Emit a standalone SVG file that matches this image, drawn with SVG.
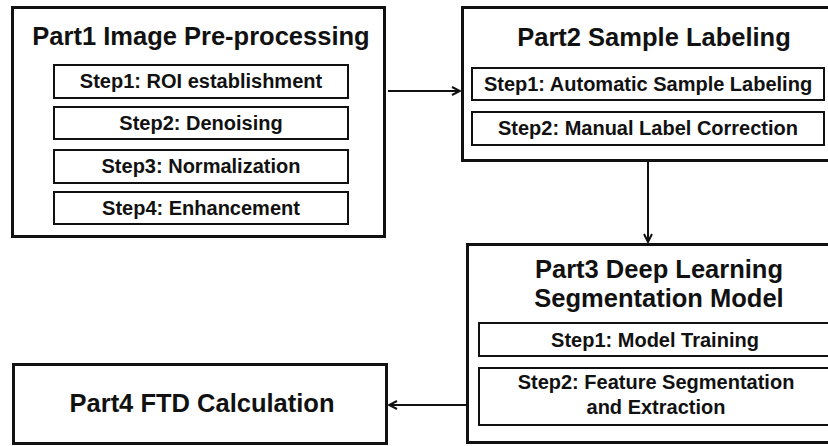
<svg xmlns="http://www.w3.org/2000/svg" width="828" height="446" viewBox="0 0 828 446">
  <style>
    .part { fill: #fff; stroke: #111; stroke-width: 3; }
    .step { fill: #fff; stroke: #111; stroke-width: 2; }
    .title { font-family: "Liberation Sans", Arial, Helvetica, sans-serif; font-weight: bold; font-size: 25.5px; fill: #111; text-anchor: middle; }
    .label { font-family: "Liberation Sans", Arial, Helvetica, sans-serif; font-weight: bold; font-size: 20px; fill: #111; text-anchor: middle; }
    .conn { fill: none; stroke: #111; stroke-width: 2; }
  </style>
  <defs>
    <marker id="arrow" viewBox="0 0 10 10" refX="9" refY="5" markerWidth="10" markerHeight="10" markerUnits="userSpaceOnUse" orient="auto">
      <path d="M1,1 L9,5 L1,9" fill="none" stroke="#111" stroke-width="2"/>
    </marker>
  </defs>
  <rect width="828" height="446" fill="#fff"/>

  <g id="part1">
    <rect class="part" x="12.5" y="7.5" width="372" height="229"/>
    <text class="title" x="201" y="45">Part1 Image Pre-processing</text>
    <rect class="step" x="54" y="65" width="294" height="33"/>
    <text class="label" x="201" y="88">Step1: ROI establishment</text>
    <rect class="step" x="54" y="107" width="294" height="32"/>
    <text class="label" x="201" y="130">Step2: Denoising</text>
    <rect class="step" x="54" y="150" width="294" height="33"/>
    <text class="label" x="201" y="173">Step3: Normalization</text>
    <rect class="step" x="54" y="192" width="294" height="32"/>
    <text class="label" x="201" y="215">Step4: Enhancement</text>
  </g>

  <g id="part2">
    <rect class="part" x="462.5" y="7.5" width="380" height="153"/>
    <text class="title" x="654" y="46">Part2 Sample Labeling</text>
    <rect class="step" x="472" y="68" width="352" height="32"/>
    <text class="label" x="648" y="91">Step1: Automatic Sample Labeling</text>
    <rect class="step" x="472" y="112" width="352" height="33"/>
    <text class="label" x="648" y="135">Step2: Manual Label Correction</text>
  </g>

  <g id="part3">
    <rect class="part" x="467.5" y="244.5" width="380" height="198"/>
    <text class="title" x="659" y="278">Part3 Deep Learning</text>
    <text class="title" x="659" y="307">Segmentation Model</text>
    <rect class="step" x="479" y="323" width="360" height="33"/>
    <text class="label" x="655" y="347">Step1: Model Training</text>
    <rect class="step" x="479" y="368" width="360" height="57"/>
    <text class="label" x="656" y="389">Step2: Feature Segmentation</text>
    <text class="label" x="656" y="414">and Extraction</text>
  </g>

  <g id="part4">
    <rect class="part" x="13.5" y="364.5" width="373" height="79"/>
    <text class="title" x="202" y="412">Part4 FTD Calculation</text>
  </g>

  <g id="connectors">
    <line class="conn" x1="388" y1="91" x2="460" y2="91" marker-end="url(#arrow)"/>
    <line class="conn" x1="648" y1="161" x2="648" y2="242" marker-end="url(#arrow)"/>
    <line class="conn" x1="466" y1="405" x2="389" y2="405" marker-end="url(#arrow)"/>
  </g>
</svg>
